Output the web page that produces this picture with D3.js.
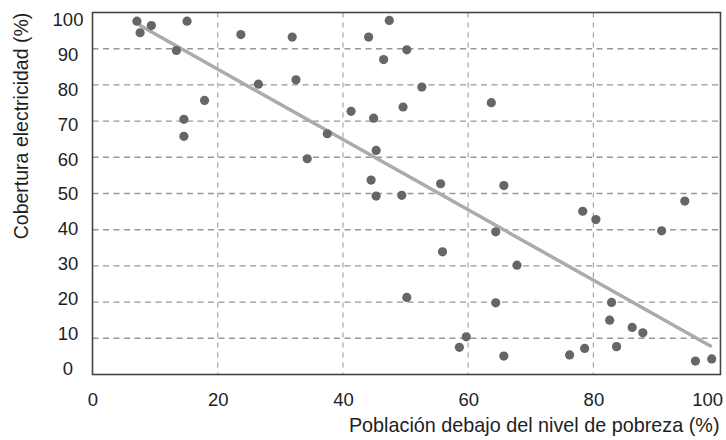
<!DOCTYPE html>
<html>
<head>
<meta charset="utf-8">
<script src="https://cdn.jsdelivr.net/npm/d3@7"></script>
<style>
  html, body { margin: 0; padding: 0; background: #fff; }
  svg { display: block; }
  text { font-family: "Liberation Sans", Arial, sans-serif; fill: #1e1e1e; }
</style>
</head>
<body>
<svg id="chart" width="726" height="440"></svg>
<script>
// Población bajo el nivel de pobreza (%) frente a cobertura eléctrica (%)
const pobreza = [
  7.1, 7.6, 9.4, 15.1, 13.4, 23.7, 31.9, 26.5, 32.5, 17.9,
  14.6, 14.6, 47.4, 44.1, 50.2, 46.5, 52.6, 63.7, 41.3, 49.6,
  44.9, 37.5, 45.3, 34.3, 44.5, 55.6, 45.3, 49.4, 65.7, 64.4,
  55.9, 50.2, 64.4, 59.7, 58.6, 94.6, 78.3, 80.4, 90.9, 67.8,
  82.9, 82.6, 86.2, 87.9, 65.7, 76.2, 78.6, 83.7, 96.3, 98.9
];
const cobertura = [
  97.6, 94.4, 96.4, 97.6, 89.5, 93.9, 93.2, 80.2, 81.4, 75.7,
  70.5, 65.8, 97.8, 93.2, 89.7, 87.0, 79.4, 75.1, 72.7, 73.9,
  70.8, 66.5, 61.9, 59.6, 53.7, 52.7, 49.3, 49.5, 52.2, 39.4,
  33.9, 21.3, 19.8, 10.4, 7.5, 47.9, 45.1, 42.8, 39.7, 30.2,
  19.9, 15.0, 13.0, 11.5, 5.1, 5.4, 7.2, 7.7, 3.7, 4.3
];
// Recta de tendencia (extremos)
const tendenciaX = [7.6, 98.7];
const tendenciaY = [96.4, 7.9];

const xTicks = [0, 20, 40, 60, 80, 100];
const yTicks = [0, 10, 20, 30, 40, 50, 60, 70, 80, 90, 100];
const xGrid = [20, 40, 60, 80];
const yGrid = [10, 20, 30, 40, 50, 60, 70, 80, 90];

const tituloX = "Población debajo del nivel de pobreza (%)";
const tituloY = "Cobertura electricidad (%)";

const svg = d3.select("#chart");

const x = d3.scaleLinear().domain([0, 100]).range([92.5, 718.6]);
const y = d3.scaleLinear().domain([0, 100]).range([374.5, 12.5]);
// tick labels sit on a slightly tighter band than the grid
const yLab = d3.scaleLinear().domain([0, 100]).range([368.5, 19.5]);
const xEdge = 100.3;

// grid
const grid = svg.append("g");
grid.selectAll("line.h").data(yGrid).join("line")
  .attr("class", "h")
  .attr("x1", x(0)).attr("x2", x(xEdge))
  .attr("y1", d => y(d)).attr("y2", d => y(d))
  .attr("stroke", "#979797").attr("stroke-width", 1.4)
  .attr("stroke-dasharray", "6,4.5");
grid.selectAll("line.v").data(xGrid).join("line")
  .attr("class", "v")
  .attr("x1", d => x(d)).attr("x2", d => x(d))
  .attr("y1", y(100)).attr("y2", y(0))
  .attr("stroke", "#a5a5a5").attr("stroke-width", 1.2)
  .attr("stroke-dasharray", "5,5");

// trend line
svg.append("line")
  .attr("x1", x(tendenciaX[0])).attr("y1", y(tendenciaY[0]))
  .attr("x2", x(tendenciaX[1])).attr("y2", y(tendenciaY[1]))
  .attr("stroke", "#ababab").attr("stroke-width", 3.5)
  .attr("stroke-linecap", "round");

// points
svg.append("g").selectAll("circle")
  .data(pobreza.map((p, i) => [p, cobertura[i]]))
  .join("circle")
  .attr("cx", d => x(d[0])).attr("cy", d => y(d[1]))
  .attr("r", 4.6)
  .attr("fill", "#666");

// frame
svg.append("rect")
  .attr("x", x(0)).attr("y", y(100))
  .attr("width", x(xEdge) - x(0)).attr("height", y(0) - y(100))
  .attr("fill", "none").attr("stroke", "#454545").attr("stroke-width", 1.6);

// x axis labels
const xAxis = d3.axisBottom(x).tickValues(xTicks).tickSize(0).tickPadding(0);
const gx = svg.append("g").attr("transform", "translate(0,393)").call(xAxis);
gx.select(".domain").remove();
gx.selectAll("text")
  .attr("dy", "0.72em")
  .style("font-family", '"Liberation Sans", Arial, sans-serif')
  .style("font-size", "18.5px").style("fill", "#1e1e1e");
// the last label is kept inside the page edge
gx.selectAll(".tick").filter(d => d === 100).select("text")
  .attr("text-anchor", "end").attr("x", 722.5 - x(100));

// y axis labels
const yAxis = d3.axisLeft(yLab).tickValues(yTicks).tickSize(0).tickPadding(0);
const gy = svg.append("g").attr("transform", "translate(68,0)").call(yAxis);
gy.select(".domain").remove();
gy.selectAll("text")
  .attr("text-anchor", "middle")
  .style("font-family", '"Liberation Sans", Arial, sans-serif')
  .style("font-size", "18.5px").style("fill", "#1e1e1e");

// titles
svg.append("text")
  .attr("x", 719.5).attr("y", 432)
  .attr("text-anchor", "end")
  .style("font-size", "19.8px")
  .text(tituloX);

svg.append("text")
  .attr("transform", "translate(28,126) rotate(-90)")
  .attr("text-anchor", "middle")
  .style("font-size", "19.5px")
  .text(tituloY);
</script>
</body>
</html>
